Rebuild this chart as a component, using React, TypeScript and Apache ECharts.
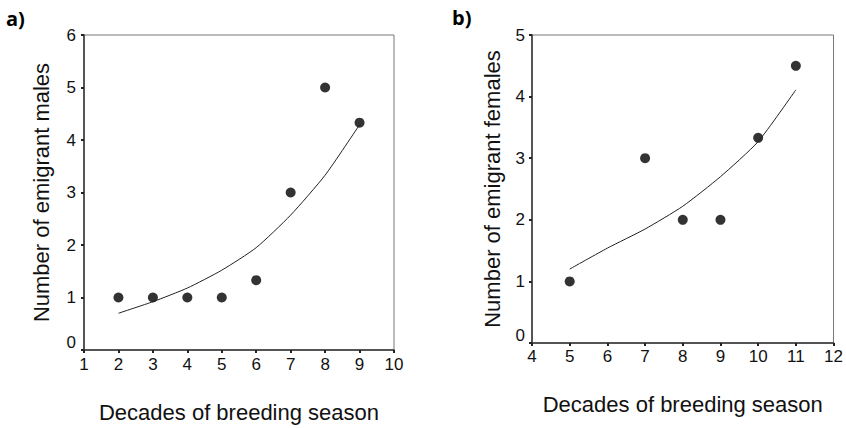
import React, { useEffect, useRef } from "react";
import * as echarts from "echarts";

const malesDecades = [2, 3, 4, 5, 6, 7, 8, 9];
const malesCount = [1, 1, 1, 1, 1.33, 3, 5, 4.33];
const malesFitDecades = [2, 3, 4, 5, 6, 7, 8, 9];
const malesFit = [0.7, 0.92, 1.18, 1.52, 1.95, 2.57, 3.33, 4.29];

const femalesDecades = [5, 7, 8, 9, 10, 11];
const femalesCount = [1, 3, 2, 2, 3.33, 4.5];
const femalesFitDecades = [5, 6, 7, 8, 9, 10, 11];
const femalesFit = [1.2, 1.54, 1.85, 2.22, 2.7, 3.27, 4.11];

const xTitle = "Decades of breeding season";
const yTitleA = "Number of emigrant males";
const yTitleB = "Number of emigrant females";

const FONT = "'Liberation Sans', Arial, sans-serif";

function pairs(xs: number[], ys: number[]) {
  return xs.map((x, i) => [x, ys[i]]);
}

export default function App() {
  const ref = useRef<HTMLDivElement>(null);
  useEffect(() => {
    if (!ref.current) return;
    const chart = echarts.init(ref.current, undefined, { renderer: "svg" });
    const axisLine = { show: true, lineStyle: { color: "#333", width: 1.5 } };
    const axisTick = { show: true, inside: false, length: 3, lineStyle: { color: "#222", width: 2 } };
    const axisLabel = { color: "#111", fontSize: 17, fontFamily: FONT };
    const yLabel = {
      ...axisLabel,
      formatter: (v: number) => (v === 0 ? "{z|0}" : String(v)),
      rich: { z: { color: "#111", fontSize: 17, fontFamily: FONT, padding: [0, 0, 16, 0] } },
    };
    const nameStyle = { color: "#111", fontSize: 22, fontFamily: FONT };
    chart.setOption({
      animation: false,
      backgroundColor: "#fff",
      grid: [
        { left: 84, top: 35, width: 310, height: 316, show: true, borderColor: "#777", borderWidth: 1, backgroundColor: "transparent" },
        { left: 532, top: 35, width: 303, height: 308, show: true, borderColor: "#777", borderWidth: 1, backgroundColor: "transparent" },
      ],
      xAxis: [
        {
          gridIndex: 0, type: "value", min: 1, max: 10, interval: 1,
          axisLine, axisTick, axisLabel: { ...axisLabel, margin: 6 }, splitLine: { show: false },
          name: xTitle, nameLocation: "middle", nameGap: 51, nameTextStyle: nameStyle,
        },
        {
          gridIndex: 1, type: "value", min: 4, max: 12, interval: 1,
          axisLine, axisTick, axisLabel: { ...axisLabel, margin: 5 }, splitLine: { show: false },
          name: xTitle, nameLocation: "middle", nameGap: 50, nameTextStyle: nameStyle,
        },
      ],
      yAxis: [
        {
          gridIndex: 0, type: "value", min: 0, max: 6, interval: 1,
          axisLine, axisTick, axisLabel: { ...yLabel, margin: 8 }, splitLine: { show: false },
          name: yTitleA, nameLocation: "middle", nameGap: 32, nameTextStyle: nameStyle,
        },
        {
          gridIndex: 1, type: "value", min: 0, max: 5, interval: 1,
          axisLine, axisTick, axisLabel: { ...yLabel, margin: 7 }, splitLine: { show: false },
          name: yTitleB, nameLocation: "middle", nameGap: 29, nameTextStyle: nameStyle,
        },
      ],
      series: [
        {
          type: "line", xAxisIndex: 0, yAxisIndex: 0, data: pairs(malesFitDecades, malesFit),
          smooth: 0.2, showSymbol: false, lineStyle: { color: "#222", width: 1 }, silent: true,
        },
        {
          type: "scatter", xAxisIndex: 0, yAxisIndex: 0, data: pairs(malesDecades, malesCount),
          symbol: "circle", symbolSize: 10, itemStyle: { color: "#000" },
        },
        {
          type: "line", xAxisIndex: 1, yAxisIndex: 1, data: pairs(femalesFitDecades, femalesFit),
          smooth: 0.2, showSymbol: false, lineStyle: { color: "#222", width: 1 }, silent: true,
        },
        {
          type: "scatter", xAxisIndex: 1, yAxisIndex: 1, data: pairs(femalesDecades, femalesCount),
          symbol: "circle", symbolSize: 10, itemStyle: { color: "#000" },
        },
      ],
      graphic: [
        { type: "text", left: 6, top: 8, style: { text: "a)", fontSize: 20, fontWeight: "bold", fontFamily: "'Open Sans', 'Noto Sans', sans-serif", fill: "#000" } },
        { type: "text", left: 452, top: 7, style: { text: "b)", fontSize: 20, fontWeight: "bold", fontFamily: "'Open Sans', 'Noto Sans', sans-serif", fill: "#000" } },
      ],
    });
    return () => chart.dispose();
  }, []);
  return <div ref={ref} style={{ position: "fixed", left: 0, top: 0, width: 846, height: 428 }} />;
}
